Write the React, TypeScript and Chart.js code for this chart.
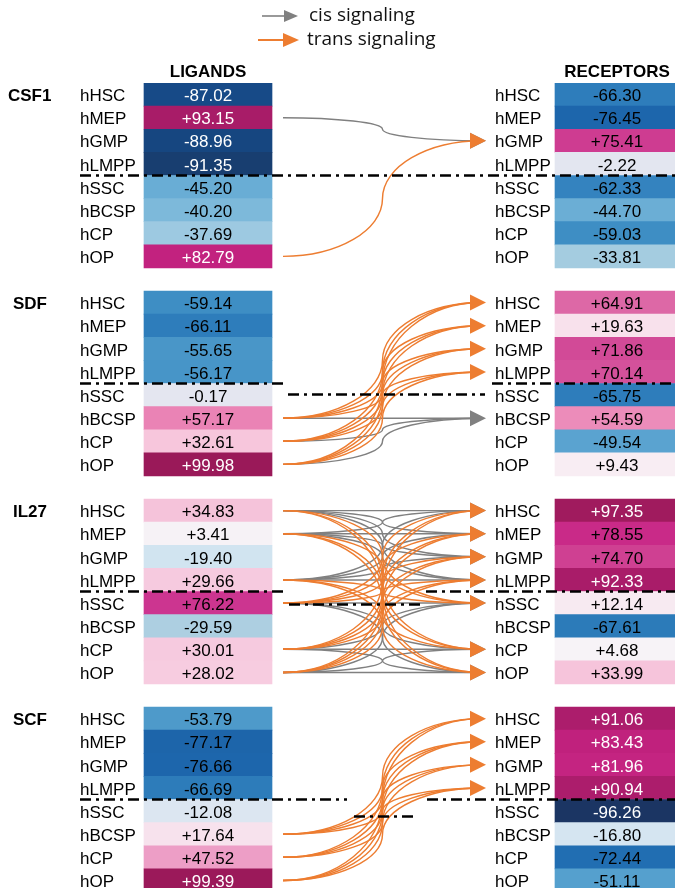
import React, { useEffect, useRef } from "react";
import { Chart, registerables } from "chart.js";

Chart.register(...registerables);

// ---------------- DATA ----------------
const CELL_TYPES = ["hHSC", "hMEP", "hGMP", "hLMPP", "hSSC", "hBCSP", "hCP", "hOP"];
const PANEL_NAMES = ["CSF1", "SDF", "IL27", "SCF"];

const CSF1_LIGANDS = [-87.02, 93.15, -88.96, -91.35, -45.2, -40.2, -37.69, 82.79];
const CSF1_RECEPTORS = [-66.3, -76.45, 75.41, -2.22, -62.33, -44.7, -59.03, -33.81];
const SDF_LIGANDS = [-59.14, -66.11, -55.65, -56.17, -0.17, 57.17, 32.61, 99.98];
const SDF_RECEPTORS = [64.91, 19.63, 71.86, 70.14, -65.75, 54.59, -49.54, 9.43];
const IL27_LIGANDS = [34.83, 3.41, -19.4, 29.66, 76.22, -29.59, 30.01, 28.02];
const IL27_RECEPTORS = [97.35, 78.55, 74.7, 92.33, 12.14, -67.61, 4.68, 33.99];
const SCF_LIGANDS = [-53.79, -77.17, -76.66, -66.69, -12.08, 17.64, 47.52, 99.39];
const SCF_RECEPTORS = [91.06, 83.43, 81.96, 90.94, -96.26, -16.8, -72.44, -51.11];

// sending ligand rows and receiving receptor rows (every sender -> every target)
const CSF1_SENDERS = [1, 7];
const CSF1_TARGETS = [2];
const SDF_SENDERS = [5, 6, 7];
const SDF_TARGETS = [0, 1, 2, 3, 5];
const IL27_SENDERS = [0, 1, 3, 4, 6, 7];
const IL27_TARGETS = [0, 1, 2, 3, 4, 6, 7];
const SCF_SENDERS = [5, 6, 7];
const SCF_TARGETS = [0, 1, 2, 3];

const LIGANDS = [CSF1_LIGANDS, SDF_LIGANDS, IL27_LIGANDS, SCF_LIGANDS];
const RECEPTORS = [CSF1_RECEPTORS, SDF_RECEPTORS, IL27_RECEPTORS, SCF_RECEPTORS];
const SENDERS = [CSF1_SENDERS, SDF_SENDERS, IL27_SENDERS, SCF_SENDERS];
const TARGETS = [CSF1_TARGETS, SDF_TARGETS, IL27_TARGETS, SCF_TARGETS];

// ---------------- LAYOUT / STYLE ----------------
const W = 675;
const H = 892;
const TOP = 83;
const ROWS_PER_PANEL = 9; // 8 rows + 1 gap
const LIG_X: [number, number] = [144, 272];
const REC_X: [number, number] = [555, 679];
const LEFT_LABEL_X = 80;
const RIGHT_LABEL_X = 495;
const PANEL_NAME_X = [8, 13, 13, 13];
const LINK_X0 = 283;
const LINK_X1 = 486;
const HEAD_BASE = 470;
const ORANGE = "#ED7D31";
const GRAY = "#808080";
const FONT = "'Liberation Sans', Arial, sans-serif";
// separator segments per panel: [xStart, xEnd, yOffset]
const SEPARATORS: [number, number, number][][] = [
  [[80, 675, 0]],
  [[80, 283, 0], [288, 485, 11], [492, 675, 0]],
  [[80, 283, 0], [289, 420, 13], [426, 675, 0]],
  [[80, 347, 0], [354, 418, 17], [427, 675, 0]],
];

type Stop = [number, number[]];
const NEG_STOPS: Stop[] = [
  [0, [228, 230, 240]],
  [12, [220, 230, 241]],
  [19, [210, 229, 241]],
  [30, [172, 206, 224]],
  [38, [156, 201, 225]],
  [40, [126, 185, 218]],
  [45, [106, 173, 213]],
  [50, [88, 162, 207]],
  [55, [75, 152, 201]],
  [59, [62, 142, 196]],
  [62, [53, 132, 191]],
  [66, [46, 125, 187]],
  [68, [44, 122, 185]],
  [72, [33, 111, 179]],
  [77, [29, 101, 171]],
  [87, [23, 74, 135]],
  [89, [22, 70, 128]],
  [91, [24, 63, 113]],
  [96, [27, 53, 99]],
  [100, [26, 49, 92]],
];
const POS_STOPS: Stop[] = [
  [0, [240, 236, 244]],
  [3.4, [246, 242, 246]],
  [5, [247, 243, 247]],
  [9.4, [248, 237, 243]],
  [12, [247, 234, 241]],
  [18, [247, 226, 237]],
  [20, [248, 225, 236]],
  [28, [247, 204, 224]],
  [30, [246, 202, 223]],
  [33, [247, 197, 220]],
  [35, [245, 195, 218]],
  [47.5, [237, 158, 198]],
  [54.6, [236, 140, 186]],
  [57.2, [234, 131, 181]],
  [65, [221, 104, 166]],
  [70, [212, 82, 155]],
  [72, [210, 73, 151]],
  [75, [207, 63, 145]],
  [76.2, [204, 53, 144]],
  [78.5, [201, 42, 136]],
  [82, [196, 36, 129]],
  [83.5, [192, 33, 125]],
  [91, [172, 29, 108]],
  [93, [168, 28, 104]],
  [97.4, [160, 27, 94]],
  [100, [154, 25, 89]],
];

function colorFor(v: number): string {
  const stops = v < 0 ? NEG_STOPS : POS_STOPS;
  const a = Math.abs(v);
  let c = stops[stops.length - 1][1];
  for (let i = 0; i < stops.length - 1; i++) {
    const [v0, c0] = stops[i];
    const [v1, c1] = stops[i + 1];
    if (a >= v0 && a <= v1) {
      const t = (a - v0) / (v1 - v0 || 1);
      c = c0.map((x, k) => Math.round(x + (c1[k] - x) * t));
      break;
    }
  }
  return `rgb(${c[0]},${c[1]},${c[2]})`;
}

function fmt(v: number): string {
  return (v > 0 ? "+" : "") + v.toFixed(2);
}

const CATEGORIES: string[] = [];
PANEL_NAMES.forEach((p, pi) => {
  CELL_TYPES.forEach((c) => CATEGORIES.push(`${p} ${c}`));
  if (pi < PANEL_NAMES.length - 1) CATEGORIES.push(`gap${pi}`);
});
const rowIndex = (p: number, r: number) => p * ROWS_PER_PANEL + r;

function buildBars(values: number[][], span: [number, number]) {
  const data: ([number, number] | null)[] = CATEGORIES.map(() => null);
  const colors: string[] = CATEGORIES.map(() => "rgba(0,0,0,0)");
  values.forEach((arr, p) =>
    arr.forEach((v, r) => {
      data[rowIndex(p, r)] = [span[0], span[1]];
      colors[rowIndex(p, r)] = colorFor(v);
    })
  );
  return { data, colors };
}

function arrowHead(ctx: CanvasRenderingContext2D, tipX: number, baseX: number, y: number, half: number, color: string) {
  ctx.beginPath();
  ctx.moveTo(tipX, y);
  ctx.lineTo(baseX, y - half);
  ctx.lineTo(baseX, y + half);
  ctx.closePath();
  ctx.fillStyle = color;
  ctx.fill();
}

function link(ctx: CanvasRenderingContext2D, x0: number, y0: number, x1: number, y1: number) {
  const xm = (x0 + x1) / 2;
  const ym = (y0 + y1) / 2;
  const k = 0.552;
  ctx.beginPath();
  ctx.moveTo(x0, y0);
  ctx.bezierCurveTo(x0 + k * (xm - x0), y0, xm, ym - k * (ym - y0), xm, ym);
  ctx.bezierCurveTo(xm, ym + k * (y1 - ym), x1 - k * (x1 - xm), y1, x1, y1);
  ctx.stroke();
}

const overlayPlugin = {
  id: "lrOverlay",
  afterDatasetsDraw(chart: any) {
    const ctx: CanvasRenderingContext2D = chart.ctx;
    const ys = chart.scales.y;
    const yPix = (p: number, r: number) => ys.getPixelForValue(rowIndex(p, r));
    ctx.save();

    // links
    PANEL_NAMES.forEach((_, p) => {
      const pass = (wantCis: boolean) => {
        SENDERS[p].forEach((s) => {
          TARGETS[p].forEach((t) => {
            const cis = (s < 4) === (t < 4);
            if (cis !== wantCis) return;
            ctx.strokeStyle = cis ? GRAY : ORANGE;
            ctx.lineWidth = 1.45;
            link(ctx, LINK_X0, yPix(p, s), LINK_X1 - 4, yPix(p, t));
          });
        });
      };
      pass(true);
      pass(false);
      const heads = (wantCis: boolean) => {
        TARGETS[p].forEach((t) => {
          const has = SENDERS[p].some((s) => ((s < 4) === (t < 4)) === wantCis);
          if (has) arrowHead(ctx, LINK_X1, HEAD_BASE, yPix(p, t), 8, wantCis ? GRAY : ORANGE);
        });
      };
      heads(true);
      heads(false);
    });

    // separators
    ctx.strokeStyle = "#000";
    ctx.lineWidth = 2.6;
    ctx.setLineDash([11, 5, 3, 5]);
    PANEL_NAMES.forEach((_, p) => {
      const yb = (yPix(p, 3) + yPix(p, 4)) / 2;
      SEPARATORS[p].forEach(([xa, xb, off]) => {
        ctx.beginPath();
        ctx.moveTo(xa, yb + off);
        ctx.lineTo(xb, yb + off);
        ctx.stroke();
      });
    });
    ctx.setLineDash([]);

    // texts
    ctx.textBaseline = "middle";
    PANEL_NAMES.forEach((name, p) => {
      ctx.fillStyle = "#000";
      ctx.font = `bold 17px ${FONT}`;
      ctx.textAlign = "left";
      ctx.fillText(name, PANEL_NAME_X[p], yPix(p, 0) + 2);
      CELL_TYPES.forEach((c, r) => {
        const y = yPix(p, r) + 2;
        ctx.font = `17px ${FONT}`;
        ctx.textAlign = "left";
        ctx.fillStyle = "#000";
        ctx.fillText(c, LEFT_LABEL_X, y);
        ctx.fillText(c, RIGHT_LABEL_X, y);
        ctx.textAlign = "center";
        const lv = LIGANDS[p][r];
        const rv = RECEPTORS[p][r];
        ctx.fillStyle = Math.abs(lv) >= 80 ? "#fff" : "#000";
        ctx.fillText(fmt(lv), (LIG_X[0] + LIG_X[1]) / 2, y);
        ctx.fillStyle = Math.abs(rv) >= 80 ? "#fff" : "#000";
        ctx.fillText(fmt(rv), 617, y);
      });
    });

    // headers
    ctx.fillStyle = "#000";
    ctx.font = `bold 17px ${FONT}`;
    ctx.textAlign = "center";
    ctx.fillText("LIGANDS", (LIG_X[0] + LIG_X[1]) / 2, 72);
    ctx.fillText("RECEPTORS", 617, 72);

    // legend
    ctx.strokeStyle = GRAY;
    ctx.lineWidth = 1.6;
    ctx.beginPath();
    ctx.moveTo(262, 16);
    ctx.lineTo(286, 16);
    ctx.stroke();
    arrowHead(ctx, 298, 284, 16, 6, GRAY);
    ctx.strokeStyle = ORANGE;
    ctx.lineWidth = 2;
    ctx.beginPath();
    ctx.moveTo(258, 40);
    ctx.lineTo(286, 40);
    ctx.stroke();
    arrowHead(ctx, 299, 283, 40, 7, ORANGE);
    ctx.fillStyle = "#111";
    ctx.font = `19px 'Open Sans', sans-serif`;
    ctx.textAlign = "left";
    ctx.fillText("cis signaling", 309, 16);
    ctx.fillText("trans signaling", 307, 40);

    ctx.restore();
  },
};

export default function App() {
  const ref = useRef<HTMLCanvasElement>(null);
  useEffect(() => {
    const lig = buildBars(LIGANDS, LIG_X);
    const rec = buildBars(RECEPTORS, REC_X);
    const chart = new Chart(ref.current as HTMLCanvasElement, {
      type: "bar",
      data: {
        labels: CATEGORIES,
        datasets: [
          {
            label: "Ligands",
            data: lig.data as any,
            backgroundColor: lig.colors,
            borderWidth: 0,
            barPercentage: 1,
            categoryPercentage: 1,
            grouped: false,
          } as any,
          {
            label: "Receptors",
            data: rec.data as any,
            backgroundColor: rec.colors,
            borderWidth: 0,
            barPercentage: 1,
            categoryPercentage: 1,
            grouped: false,
          } as any,
        ],
      },
      options: {
        indexAxis: "y",
        responsive: false,
        animation: false,
        devicePixelRatio: window.devicePixelRatio || 1,
        layout: { padding: { top: TOP, left: 0, right: 0, bottom: 0 } },
        plugins: { legend: { display: false }, tooltip: { enabled: false }, title: { display: false } },
        scales: {
          x: { type: "linear", min: 0, max: W, display: false },
          y: { type: "category", display: false, offset: true },
        },
      },
      plugins: [overlayPlugin],
    });
    return () => chart.destroy();
  }, []);
  return (
    <div
      style={{
        position: "fixed",
        left: 0,
        top: 0,
        width: W,
        height: 888,
        overflow: "hidden",
        background: "#fff",
      }}
    >
      <canvas ref={ref} width={W} height={H} style={{ display: "block", width: W, height: H }} />
    </div>
  );
}
